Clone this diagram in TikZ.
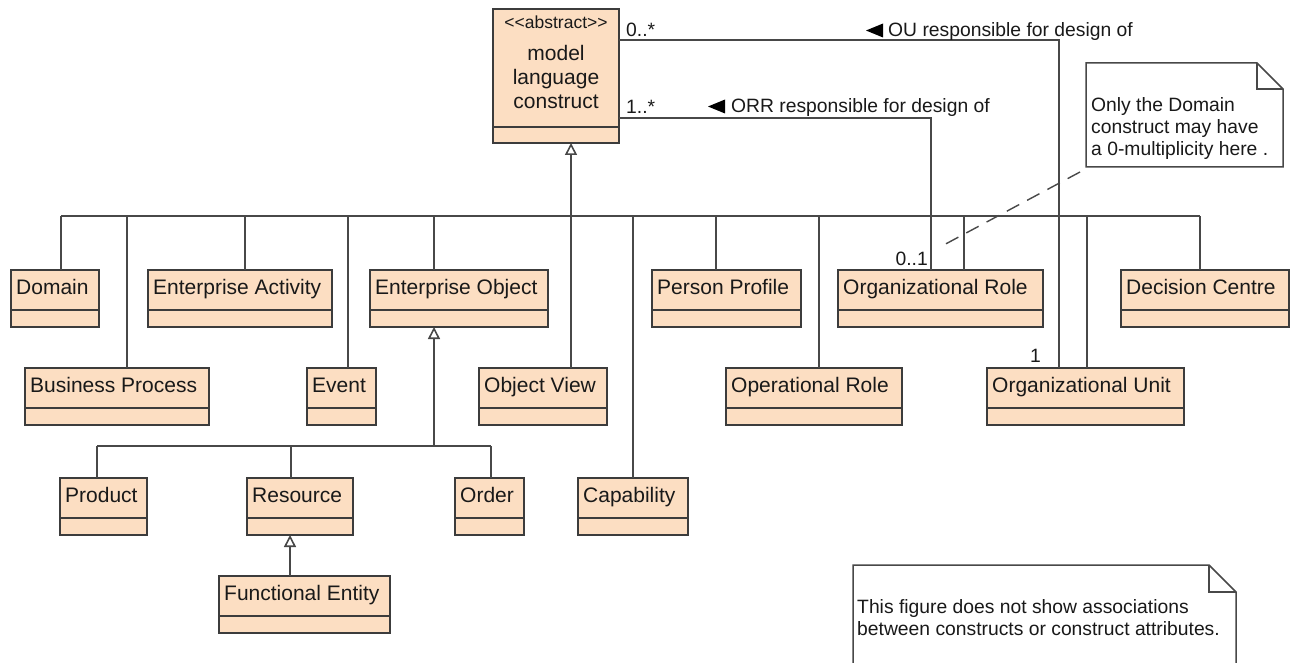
\documentclass[tikz,border=0pt]{standalone}
\usepackage{fontspec}
\setmainfont{Liberation Sans}
\usetikzlibrary{arrows.meta}
\definecolor{peach}{RGB}{252,222,194}
\definecolor{lc}{RGB}{72,72,72}
\definecolor{bc}{RGB}{60,60,60}
\tikzset{
  clsbox/.style={draw=bc, fill=peach, line width=1.6pt, inner sep=0pt, outer sep=0pt},
  boxline/.style={draw=bc, line width=1.6pt},
  clsname/.style={inner sep=0pt, font=\fontsize{21}{24}\selectfont, text=black!90},
  lbl/.style={inner sep=0pt, font=\fontsize{19.3}{22}\selectfont, text=black!90},
  ln/.style={draw=lc, line width=1.6pt},
  gen/.style={ln, -{Triangle[width=12pt,length=12pt,fill=white]}},
  notebox/.style={draw=lc, line width=1.5pt, fill=white},
}
\newcommand\umlcls[6]{%
  \node[clsbox, minimum width={#4-#2}, minimum height={#5-#3}, anchor=north west] (#1) at (#2,#3) {};
  \draw[boxline] ([yshift=-40]#1.north west) -- ([yshift=-40]#1.north east);
  \node[clsname, anchor=base west] (#1-t) at ([xshift=5,yshift=-24]#1.north west) {#6};
}
\newcommand\dropto[3]{%
  \draw[ln] ([xshift=#2]#1.north west) coordinate (#1-d) -- (#1-d |- #3);
}
\begin{document}
\begin{tikzpicture}[x=1pt,y=-1pt]
\clip (0,0) rectangle (1298,663);
\fill[white] (0,0) rectangle (1298,663);

% main abstract class
\node[clsbox, minimum width=126, minimum height=134, anchor=north west] (mlc) at (493,9) {};
\draw[boxline] ([yshift=-118]mlc.north west) -- ([yshift=-118]mlc.north east);
\node[inner sep=0pt, font=\fontsize{17.5}{20}\selectfont, text=black!90, anchor=base] (mlc-s) at (556,29) {{<}{<}abstract{>}{>}};
\node[clsname, anchor=base, align=center] (mlc-t) at (556,109) {model\\language\\construct};

% classes
\umlcls{dom}{11}{270}{99}{327}{Domain}
\umlcls{bp}{25}{368}{209}{425}{Business Process}
\umlcls{ea}{148}{270}{332}{327}{Enterprise Activity}
\umlcls{ev}{307}{368}{376}{425}{Event}
\umlcls{eo}{370}{270}{548}{327}{Enterprise Object}
\umlcls{ov}{479}{368}{607}{425}{Object View}
\umlcls{cap}{578}{478}{688}{535}{Capability}
\umlcls{pp}{652}{270}{801}{327}{Person Profile}
\umlcls{opr}{726}{368}{902}{425}{Operational Role}
\umlcls{orl}{838}{270}{1043}{327}{Organizational Role}
\umlcls{ou}{987}{368}{1184}{425}{Organizational Unit}
\umlcls{dc}{1121}{270}{1289}{327}{Decision Centre}
\umlcls{prod}{60}{478}{147}{535}{Product}
\umlcls{res}{247}{478}{353}{535}{Resource}
\umlcls{ord}{455}{478}{524}{535}{Order}
\umlcls{fe}{219}{576}{390}{633}{Functional Entity}

% main generalization bus
\coordinate (busL) at (61,216);
\coordinate (busR) at (1200,216);
\coordinate (busM) at (571,216);
\draw[ln] (busL) -- (busR);
\draw[gen] (busM) -- (busM |- mlc.south);
\dropto{dom}{50}{busL}
\dropto{bp}{102}{busL}
\dropto{ea}{97}{busL}
\dropto{ev}{41}{busL}
\dropto{eo}{64}{busL}
\dropto{ov}{92}{busL}
\dropto{cap}{55}{busL}
\dropto{pp}{64}{busL}
\dropto{opr}{93}{busL}
\dropto{orl}{126}{busL}
\dropto{ou}{100}{busL}
\dropto{dc}{79}{busL}

% Enterprise Object sub-bus
\coordinate (sbL) at (97,446);
\coordinate (sbR) at (491,446);
\coordinate (sbM) at (434,446);
\draw[ln] (sbL) -- (sbR);
\draw[gen] (sbM) -- (sbM |- eo.south);
\dropto{prod}{37}{sbL}
\dropto{res}{44}{sbL}
\dropto{ord}{36}{sbL}

% Functional Entity -> Resource
\draw[gen] ([xshift=71]fe.north west) coordinate (fe-d) -- (fe-d |- res.south);

% associations
\draw[ln] ([yshift=-31]mlc.north east) -| ([xshift=72]ou.north west);
\draw[ln] ([yshift=-109]mlc.north east) -| ([xshift=93]orl.north west);

\node[lbl, anchor=base west] (m1) at (626,37) {0..*};
\node[lbl, anchor=base west] (m2) at (626,114) {1..*};
\node[lbl, anchor=base east] (m3) at (928,265) {0..1};
\node[lbl, anchor=base east] (m4) at (1041,362) {1};

\node[lbl, anchor=base west] (l1) at (888,37) {OU responsible for design of};
\fill[black] (866,30.5) -- (883,23.5) -- (883,37.5) -- cycle;
\node[lbl, anchor=base west] (l2) at (731,113) {ORR responsible for design of};
\fill[black] (708,106.5) -- (725,99.5) -- (725,113.5) -- cycle;

% note 1
\draw[notebox] (1086,63) -- (1257,63) -- (1283,89) -- (1283,167) -- (1086,167) -- cycle;
\draw[ln, line width=1.5pt] (1257,63) -- (1257,89) -- (1283,89);
\node[lbl, anchor=base west, align=left] (n1t) at (1091,156) {Only the Domain\\construct may have\\a 0-multiplicity here .};
\coordinate (n1c) at (1080,172);
\coordinate (orc) at (940,247);
\draw[ln, line width=1.4pt, dash pattern=on 14pt off 9pt] (n1c) -- (orc);

% note 2
\draw[notebox] (853,565) -- (1209,565) -- (1236,592) -- (1236,690) -- (853,690) -- cycle;
\draw[ln, line width=1.5pt] (1209,565) -- (1209,592) -- (1236,592);
\node[lbl, anchor=base west, align=left] (n2t) at (857,635) {This figure does not show associations\\between constructs or construct attributes.};
\end{tikzpicture}
\end{document}
